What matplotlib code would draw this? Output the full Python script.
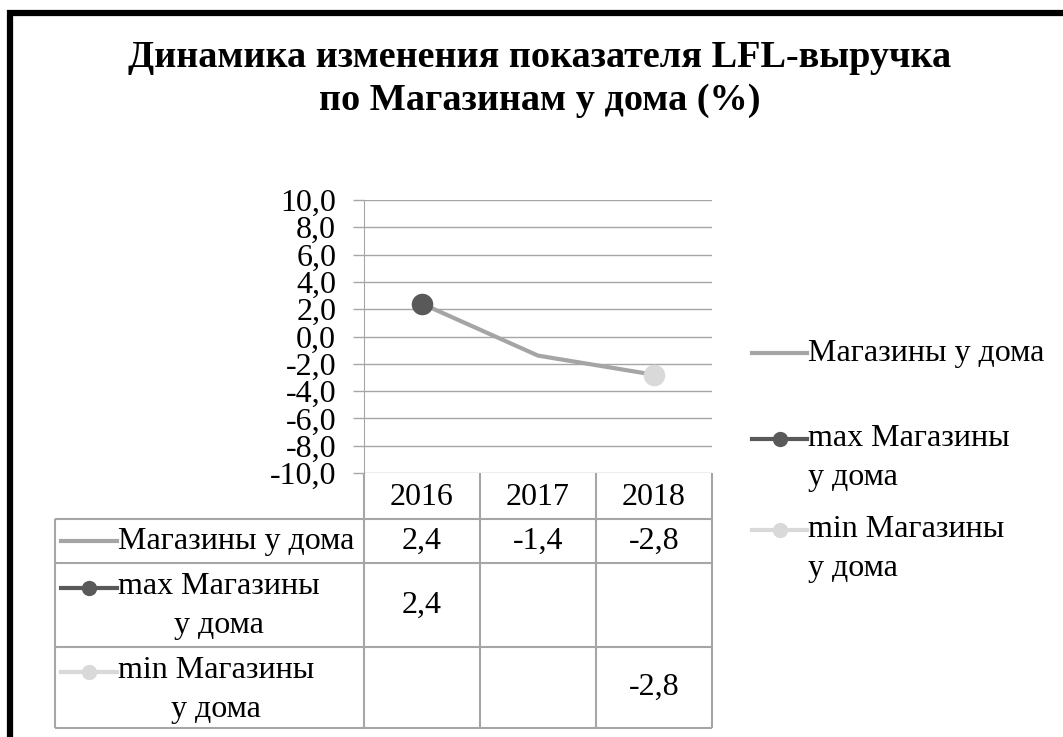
import matplotlib.pyplot as plt
from matplotlib.lines import Line2D
from matplotlib.transforms import blended_transform_factory

plt.rcParams['font.family'] = ['Liberation Serif', 'DejaVu Serif']

years = ['2016', '2017', '2018']
lfl = [2.4, -1.4, -2.8]
lfl_max = [2.4, None, None]
lfl_min = [None, None, -2.8]

series_names = ['Магазины у дома', 'max Магазины\nу дома', 'min Магазины\nу дома']
title = 'Динамика изменения показателя LFL-выручка\nпо Магазинам у дома (%)'

c_line = '#a5a5a5'
c_max = '#595959'
c_min = '#d9d9d9'
c_grid = '#a6a6a6'
fs = 23


def fmt(v):
    return '{:.1f}'.format(v).replace('.', ',')


def nan_none(vals):
    return [v if v is not None else float('nan') for v in vals]


W, H = 1063, 737
fig = plt.figure(figsize=(W / 100, H / 100), dpi=100)

# overlay in pixel coords for border, title, table and legend
ov = fig.add_axes([0, 0, 1, 1], zorder=0)
ov.set_xlim(0, W)
ov.set_ylim(H, 0)
ov.axis('off')

# plot area
x0, x1, y0, y1 = 364, 712, 200, 473
ax = fig.add_axes([x0 / W, (H - y1) / H, (x1 - x0) / W, (y1 - y0) / H], zorder=1)
ax.patch.set_visible(False)

xs = list(range(len(years)))
ax.plot(xs, lfl, color=c_line, lw=3, solid_capstyle='round', zorder=2)
ax.plot(xs, nan_none(lfl_max), 'o', color=c_max, ms=14.5, zorder=3)
ax.plot(xs, nan_none(lfl_min), 'o', color=c_min, ms=14.5, zorder=3)

ax.set_xlim(-0.5, len(years) - 0.5)
ax.set_ylim(-10, 10)
ax.set_yticks(range(-10, 11, 2))
ax.set_yticklabels([fmt(v) for v in range(-10, 11, 2)], fontsize=fs)
ax.set_xticks([])
ax.tick_params(axis='y', length=8, width=1, color=c_grid, pad=12)
ax.grid(axis='y', color=c_grid, lw=1)
for s in ['top', 'right', 'bottom']:
    ax.spines[s].set_visible(False)
ax.spines['left'].set_color(c_grid)

# data table under the chart
tr = blended_transform_factory(ax.transData, ov.transData)
rows_y = [473, 519, 563, 647, 728]
left = 55
lkw = dict(color=c_grid, lw=1.5, solid_capstyle='butt')

n = len(years)
for i in range(n + 1):
    ov.plot([i - 0.5, i - 0.5], [rows_y[0], rows_y[-1]], transform=tr, **lkw)
for y in rows_y[1:]:
    ov.plot([left, x1], [y, y], **lkw)
ov.plot([left, left], [rows_y[1], rows_y[-1]], **lkw)

for i, yr in enumerate(years):
    ov.text(i, (rows_y[0] + rows_y[1]) / 2 + 1, yr, transform=tr, ha='center',
            va='center', fontsize=fs)

table_vals = [lfl, lfl_max, lfl_min]
for r, vals in enumerate(table_vals):
    yc = (rows_y[r + 1] + rows_y[r + 2]) / 2
    for i, v in enumerate(vals):
        if v is not None:
            ov.text(i, yc, fmt(v), transform=tr, ha='center', va='center', fontsize=fs)

keys = [dict(color=c_line, lw=3, marker=None),
        dict(color=c_max, lw=3, marker='o', ms=10, markevery=[1]),
        dict(color=c_min, lw=3, marker='o', ms=10, markevery=[1])]

# row labels: (key y, text block centre)
row_lab = [(541, 541), (588, 606), (672, 690)]
for (ky, ty), name, k in zip(row_lab, series_names, keys):
    ov.add_line(Line2D([61, 89, 117], [ky, ky, ky], **k))
    ov.text(118, ty, name, ha='left', va='center', fontsize=fs,
            multialignment='center', linespacing=1.45)

# legend on the right
leg = [(353, 353), (439, 458), (530, 549)]
for (ky, ty), name, k in zip(leg, series_names, keys):
    ov.add_line(Line2D([752, 780, 807], [ky, ky, ky], **k))
    ov.text(808, ty, name, ha='left', va='center', fontsize=fs,
            multialignment='left', linespacing=1.45)

ov.text(540, 79, title, ha='center', va='center', fontsize=27.5,
        weight='bold', linespacing=1.3)

# frame
ov.plot([10, 10, W + 5], [H + 5, 12.5, 12.5], color='black', lw=4.5,
        solid_joinstyle='miter')

fig.savefig('out.png', dpi=100)
